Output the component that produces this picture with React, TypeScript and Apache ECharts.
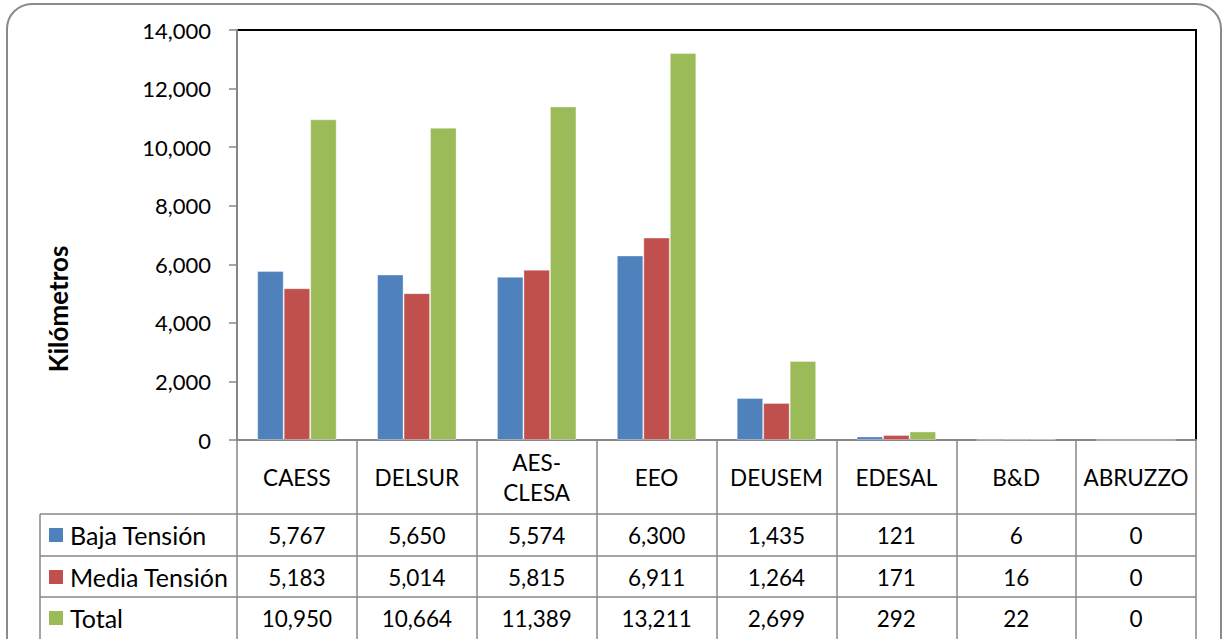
import React, { useEffect, useRef } from "react";
import * as echarts from "echarts";

const categories = ["CAESS", "DELSUR", "AES-\nCLESA", "EEO", "DEUSEM", "EDESAL", "B&D", "ABRUZZO"];
const seriesNames = ["Baja Tensión", "Media Tensión", "Total"];
const bajaTension = [5767, 5650, 5574, 6300, 1435, 121, 6, 0];
const mediaTension = [5183, 5014, 5815, 6911, 1264, 171, 16, 0];
const total = [10950, 10664, 11389, 13211, 2699, 292, 22, 0];
const colors = ["#4F81BD", "#C0504D", "#9BBB59"];
const yTicks = { min: 0, max: 14000, interval: 2000 };
const yTitle = "Kilómetros";

const FONT = "Lato, 'Open Sans', sans-serif";
const fmt = (v: number) => v.toLocaleString("en-US");

export default function App() {
  const ref = useRef<HTMLDivElement>(null);
  useEffect(() => {
    document.body.style.margin = "0";
    const chart = echarts.init(ref.current!, undefined, { renderer: "svg" });
    const L = 237, T = 30, R = 1196, B = 440;
    const rowY = [514, 556, 597, 639];
    const rowCenters = [535, 577, 618];
    const data = [bajaTension, mediaTension, total];
    const gray = "#878787";

    const tableAxes = data.map((arr, i) => ({
      type: "category",
      gridIndex: 0,
      position: "bottom",
      offset: rowCenters[i] - B,
      data: categories,
      axisLine: { show: false },
      axisTick: { show: false },
      axisLabel: {
        interval: 0,
        margin: 0,
        verticalAlign: "middle",
        fontFamily: FONT,
        fontSize: 22.5,
        color: "#000",
        formatter: (_v: string, idx: number) => fmt(arr[idx]),
      },
    }));

    const graphics: any[] = [
      {
        type: "rect",
        shape: { x: 7, y: 4, width: 1214, height: 680, r: 25 },
        style: { fill: "none", stroke: "#8a8a8a", lineWidth: 2 },
        silent: true,
      },
      { type: "line", shape: { x1: L, y1: T, x2: R + 1, y2: T }, style: { stroke: "#000", lineWidth: 2 } },
      { type: "line", shape: { x1: R, y1: T, x2: R, y2: B }, style: { stroke: "#000", lineWidth: 2 } },
      { type: "line", shape: { x1: 40, y1: rowY[0], x2: 40, y2: 650 }, style: { stroke: gray, lineWidth: 1.5 } },
      {
        type: "text",
        x: 58,
        y: 309,
        rotation: Math.PI / 2,
        style: {
          text: yTitle,
          fontFamily: FONT,
          fontSize: 26,
          fontWeight: "bold",
          fill: "#000",
          align: "center",
          verticalAlign: "middle",
        },
      },
    ];
    for (let k = 0; k < 3; k++) {
      graphics.push({
        type: "line",
        shape: { x1: 40, y1: rowY[k], x2: R, y2: rowY[k] },
        style: { stroke: gray, lineWidth: 1.5 },
      });
    }
    seriesNames.forEach((n, i) => {
      graphics.push({
        type: "rect",
        shape: { x: 49, y: rowCenters[i] - 7, width: 14, height: 14 },
        style: { fill: colors[i] },
      });
      graphics.push({
        type: "text",
        x: 70,
        y: rowCenters[i],
        style: { text: n, fontFamily: FONT, fontSize: 25, fill: "#000", verticalAlign: "middle", align: "left" },
      });
    });

    chart.setOption({
      animation: false,
      grid: { left: L, top: T, right: 1223 - R, bottom: 639 - B, containLabel: false },
      xAxis: [
        {
          type: "category",
          data: categories,
          axisLine: { lineStyle: { color: gray, width: 2 } },
          axisTick: { show: true, length: 210, interval: 0, lineStyle: { color: gray, width: 1.5 } },
          axisLabel: {
            interval: 0,
            margin: 37,
            verticalAlign: "middle",
            lineHeight: 30,
            fontFamily: FONT,
            fontSize: 22.5,
            color: "#000",
          },
        },
        ...tableAxes,
      ],
      yAxis: {
        type: "value",
        min: yTicks.min,
        max: yTicks.max,
        interval: yTicks.interval,
        axisLine: { show: true, lineStyle: { color: gray, width: 2 } },
        axisTick: { show: true, length: 8, lineStyle: { color: gray, width: 1.5 } },
        splitLine: { show: false },
        axisLabel: {
          margin: 26,
          fontFamily: FONT,
          fontSize: 22,
          color: "#000",
          formatter: (v: number) => fmt(v),
        },
      },
      series: data.map((arr, i) => ({
        type: "bar",
        name: seriesNames[i],
        xAxisIndex: 0,
        data: arr,
        barWidth: 26.5,
        barGap: "0%",
        itemStyle: { color: colors[i], borderColor: "rgba(255,255,255,0.35)", borderWidth: 1 },
      })),
      graphic: graphics,
    });
    return () => chart.dispose();
  }, []);
  return <div ref={ref} style={{ width: 1223, height: 639 }} />;
}
